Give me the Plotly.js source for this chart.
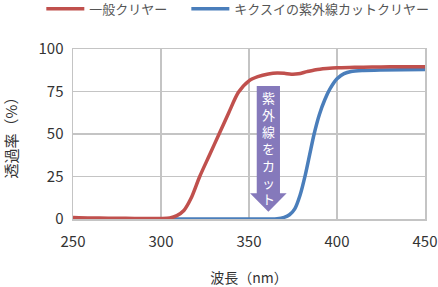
<!DOCTYPE html>
<html>
<head>
<meta charset="utf-8">
<script src="https://cdn.plot.ly/plotly-3.0.1.min.js"></script>
<style>html,body{margin:0;padding:0;background:#fff;}#chart{width:438px;height:287px;}</style>
</head>
<body>
<div id="chart"></div>
<script>
// Series names
const seriesNames = ["一般クリヤー", "キクスイの紫外線カットクリヤー"];

// 一般クリヤー (red)
const redX = [250,260,270,280,290,300,305,309,313,317,322,327.5,333,338.5,344,350,355,361,366,370,374,378,383,388,394,400,410,420,430,440,450];
const redY = [0.9,0.6,0.5,0.4,0.3,0.3,0.6,2,5,12,25,37.5,50,62.5,74.5,81.3,83.7,85.3,85.9,85.7,85.2,85.4,86.7,87.8,88.5,89,89.2,89.4,89.5,89.6,89.6];

// キクスイの紫外線カットクリヤー (blue)
const blueX = [250,300,350,366,370,373,376,379,382,384.5,387,390,393,396,400,404,408,415,425,450];
const blueY = [0,0,0,0.2,1,2.5,6,14,26,38,50,61.5,70,76.5,82.5,85.5,86.8,87.4,87.7,88];

// Axis ticks
const xTicks = [250,300,350,400,450];
const yTicks = [0,25,50,75,100];

// Arrow label
const arrowText = "紫外線をカット";

const FONT = '"Noto Sans CJK JP", "Noto Sans", sans-serif';
const gridColor = '#c4c4c4';

const traces = [
  {x: blueX, y: blueY, name: seriesNames[1], type: 'scatter', mode: 'lines', legend: 'legend2',
   line: {color: '#4a7ebb', width: 3.5, shape: 'spline', smoothing: 0.8}},
  {x: redX, y: redY, name: seriesNames[0], type: 'scatter', mode: 'lines', legend: 'legend',
   line: {color: '#c0504d', width: 3.5, shape: 'spline', smoothing: 0.8}}
];

// Arrow geometry (decoration, in data units)
const aL = 354.4, aR = 367.6, hL = 350.6, hR = 371.4, aTop = 78.2, hBase = 15.1, tipX = 361, tipY = 4.3;
const arrowPath = `M${aL},${aTop} L${aR},${aTop} L${aR},${hBase} L${hR},${hBase} L${tipX},${tipY} L${hL},${hBase} L${aL},${hBase} Z`;

const annotations = [{
  x: tipX, y: 42, xref: 'x', yref: 'y', text: Array.from(arrowText).join('<br>'), showarrow: false,
  font: {family: FONT, size: 13, color: '#ffffff'}, xanchor: 'center', yanchor: 'middle', align: 'center'
}];

const legendBase = {orientation: 'h', xanchor: 'left', y: 1.236, yanchor: 'middle',
  font: {family: FONT, size: 13, color: '#555'}, itemwidth: 38, bgcolor: 'rgba(0,0,0,0)'};

const layout = {
  width: 438, height: 287,
  margin: {l: 73, r: 13, t: 49, b: 68, autoexpand: false},
  paper_bgcolor: '#fff', plot_bgcolor: '#fff',
  font: {family: FONT, color: '#333', size: 15},
  showlegend: true,
  legend: Object.assign({}, legendBase, {x: -0.09}),
  legend2: Object.assign({}, legendBase, {x: 0.322}),
  xaxis: {range: [250, 450], tickvals: xTicks, ticktext: xTicks.map(String), showgrid: true,
          gridcolor: gridColor, gridwidth: 1.5, zeroline: false, showline: true, mirror: true,
          linecolor: gridColor, linewidth: 1.5, ticks: '', tickfont: {size: 15, color: '#333'},
          ticklabelstandoff: 8,
          title: {text: '波長（nm）', font: {size: 14, color: '#333'}, standoff: 27}, fixedrange: true},
  yaxis: {range: [0, 100], tickvals: yTicks, ticktext: yTicks.map(String), showgrid: true,
          gridcolor: gridColor, gridwidth: 1.5, zeroline: false, showline: true, mirror: true,
          linecolor: gridColor, linewidth: 1.5, ticks: '', tickfont: {size: 15, color: '#333'},
          ticklabelstandoff: 5,
          title: {text: '透過率（%）', font: {size: 15, color: '#333'}, standoff: 29}, fixedrange: true},
  shapes: [{type: 'path', path: arrowPath, xref: 'x', yref: 'y', fillcolor: '#8579bb', line: {width: 0}, layer: 'above'}],
  annotations: annotations
};

Plotly.newPlot('chart', traces, layout, {displayModeBar: false, staticPlot: true});
</script>
</body>
</html>
